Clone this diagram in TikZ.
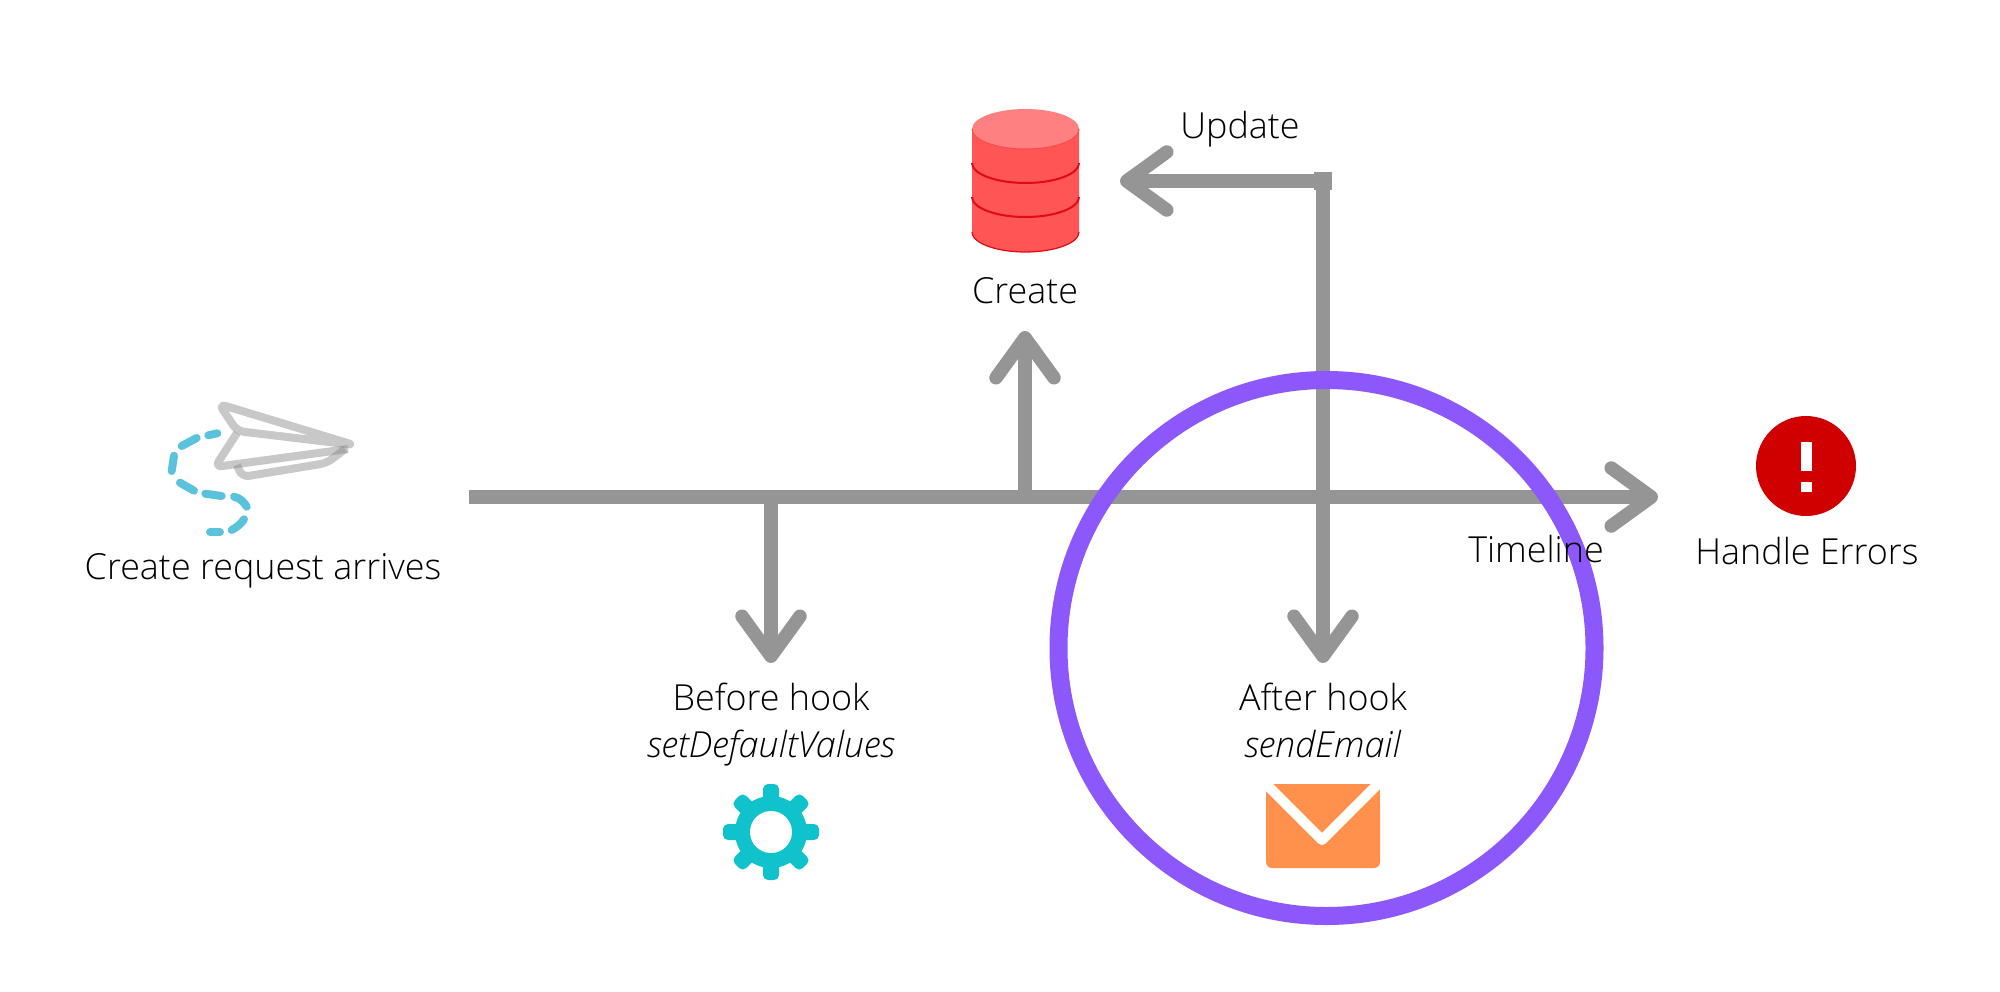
\documentclass[tikz,border=0pt]{standalone}
\usepackage{fontspec}
\setmainfont{Open Sans Light}[ItalicFont={Open Sans Light Italic}]
\usetikzlibrary{arrows.meta}
\definecolor{linegray}{HTML}{959595}
\definecolor{hookpurple}{HTML}{8C57FB}
\definecolor{dbtop}{HTML}{FF8080}
\definecolor{dbbody}{HTML}{FF5555}
\definecolor{dbline}{HTML}{DF0A14}
\definecolor{geartone}{HTML}{0FC2CC}
\definecolor{mailtone}{HTML}{FF914D}
\definecolor{errred}{HTML}{D00000}
\definecolor{trailblue}{HTML}{5BC2DC}
\definecolor{planegray}{HTML}{858585}
\tikzset{
  flow/.style={draw=linegray, line width=13.5pt, -{Straight Barb[length=40pt,width=58pt,round]}},
  lab/.style={inner sep=0pt, anchor=base, align=center, text=black, font=\fontsize{35.9}{47}\selectfont},
  trail/.style={draw=trailblue, line width=8pt, line cap=round},
  plane/.style={draw=planegray, opacity=.45, line width=8pt, rounded corners=7pt, line join=round},
  dbring/.style={draw=dbline, line width=2pt}
}
\begin{document}
\begin{tikzpicture}[x=1pt, y=-1pt]
\useasboundingbox (0,0) rectangle (2000,991);
\coordinate (tlstart) at (469,497);
\coordinate (tlend) at (1658,497);
\coordinate (tlbefore) at (771,497);
\coordinate (tlcreate) at (1025,497);
\coordinate (beforetip) at (771,663);
\coordinate (createtip) at (1025,331);
\coordinate (updatetip) at (1120,181);
\coordinate (aftertip) at (1323,663);
\node[fill=linegray, minimum size=18pt, inner sep=0pt] (bend) at (1323,181) {};

\draw[flow] (tlstart) -- (tlend);
\draw[flow] (tlbefore) -- (beforetip);
\draw[flow] (tlcreate) -- (createtip);
\draw[flow] (bend.center) -- (updatetip);
\draw[flow] (bend.center) -- (aftertip);

\draw[hookpurple, line width=18pt] (1326.5,648) circle (268pt);

\fill[dbbody] (972,129) -- (972,232) arc[start angle=180, end angle=360, x radius=53.5pt, y radius=20pt] -- (1079,129) -- cycle;
\draw[dbline, line width=1.2pt] (972,232) arc[start angle=180, end angle=360, x radius=53.5pt, y radius=20pt];
\draw[dbring] (972,163) arc[start angle=180, end angle=360, x radius=53.5pt, y radius=20pt];
\draw[dbring] (972,197) arc[start angle=180, end angle=360, x radius=53.5pt, y radius=20pt];
\fill[dbtop] (1025.5,129) ellipse [x radius=53.5pt, y radius=20pt];
\draw[dbbody!85!dbline, line width=1pt] (972,129) arc[start angle=180, end angle=360, x radius=53.5pt, y radius=20pt];

\foreach \ang in {0,45,...,315}
  \fill[geartone, rounded corners=5pt, rotate around={\ang:(771,832)}] (763,784) rectangle (779,812);
\fill[geartone] (771,832) circle (36pt);
\fill[white] (771,832) circle (21pt);

\fill[mailtone, rounded corners=6pt] (1266,800) -- (1266,868) -- (1380,868) -- (1380,800) -- cycle;
\fill[mailtone] (1266,784) rectangle (1380,810);
\draw[white, line width=10pt, line join=round] (1260,778) -- (1322,840) -- (1384,778);

\fill[errred] (1806,466) circle (50pt);
\fill[white] (1801,442) rectangle (1812,471);
\fill[white] (1801,482) rectangle (1812,492);

\draw[plane] (237,431) -- (219,404) -- (354,445) -- cycle;
\draw[plane] (237,433) -- (215,467) -- (348,449);
\draw[plane] (237,465) -- (242,477) -- (327,463) -- (345,449);
\draw[trail] (208.3,435.3) -- (217.3,433.3);
\draw[trail] (181.7,446) -- (196.7,438);
\draw[trail] (174,455.7) -- (171.7,471);
\draw[trail] (180,482.7) -- (194,490.7);
\draw[trail] (205.3,493.7) -- (221.7,496);
\draw[trail] (234,496.7) .. controls (240,498) and (244,502) .. (246.7,506.7);
\draw[trail] (244,519.3) .. controls (241,524) and (237,527) .. (231.7,530);
\draw[trail] (210,532.3) -- (220,532.3);

\node[lab] (arrives) at (263,579) {Create request arrives};
\node[lab] (create) at (1025,303) {Create};
\node[lab] (update) at (1240,138) {Update};
\node[lab] (timeline) at (1536,562) {Timeline};
\node[lab] (errors) at (1807,564) {Handle Errors};
\node[lab] (before) at (771,757) {Before hook\\\textit{setDefaultValues}};
\node[lab] (after) at (1323,757) {After hook\\\textit{sendEmail}};
\end{tikzpicture}
\end{document}
